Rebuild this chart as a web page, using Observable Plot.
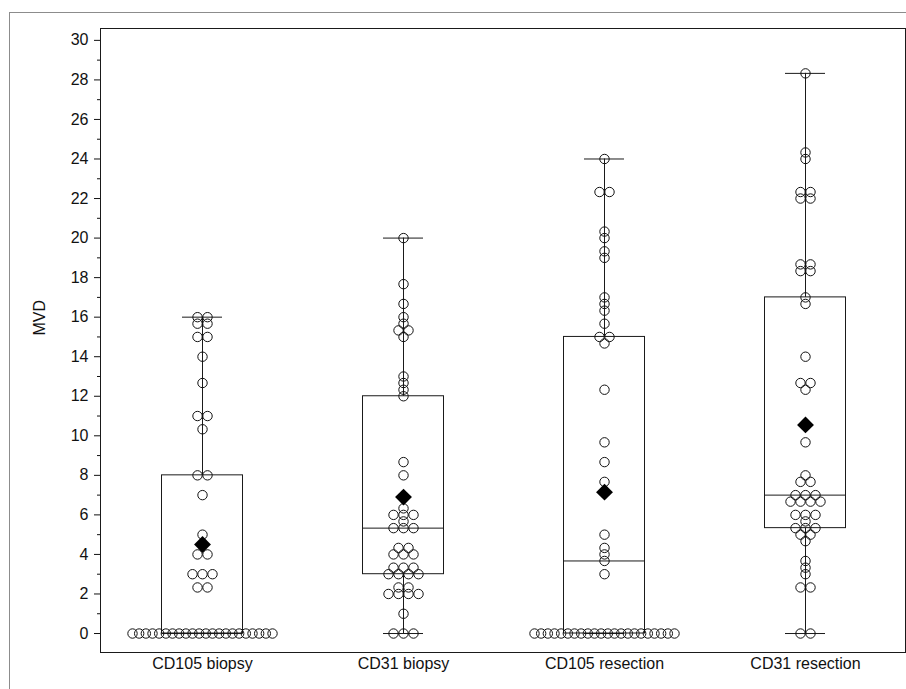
<!DOCTYPE html>
<html><head><meta charset="utf-8">
<script src="https://cdn.jsdelivr.net/npm/d3@7"></script>
<script src="https://cdn.jsdelivr.net/npm/@observablehq/plot@0.6"></script>
<style>
html,body{margin:0;padding:0;background:#fff;}
#wrap{position:relative;width:906px;height:689px;overflow:hidden;}
#border{position:absolute;left:9px;top:12px;width:920px;height:700px;border-left:1px solid #8c8c8c;border-top:1px solid #8c8c8c;}
#chart{position:absolute;left:0;top:0;}
</style></head><body>
<div id="wrap"><div id="border"></div><div id="chart"></div></div>
<script>
// ---- data ----
const groups = ["CD105 biopsy", "CD31 biopsy", "CD105 resection", "CD31 resection"];
const cd105Biopsy = [16,16,15.67,15.67,15,15,14,12.67,11,11,10.33,8,8,7,5,4,4,3,3,3,2.33,2.33,
  0,0,0,0,0,0,0,0,0,0,0,0,0,0,0,0,0,0,0,0,0,0];
const cd31Biopsy = [20,17.67,16.67,16,15.67,15.33,15.33,15,13,12.67,12.33,12,8.67,8,6.33,6,6,6,5.67,
  5.33,5.33,5.33,4.33,4.33,4,4,4,3.33,3.33,3.33,3,3,3,3,2.33,2.33,2,2,2,2,1,0,0,0];
const cd105Resection = [24,22.33,22.33,20.33,20,19.33,19,17,16.67,16.33,15.67,15,15,14.67,12.33,9.67,8.67,7.67,5,4.33,4,3.67,3,
  0,0,0,0,0,0,0,0,0,0,0,0,0,0,0,0,0,0,0,0,0,0];
const cd31Resection = [28.33,24.33,24,22.33,22.33,22,22,18.67,18.67,18.33,18.33,17,16.67,14,12.67,12.67,12.33,9.67,8,7.67,7.67,
  7,7,7,6.67,6.67,6.67,6.67,6,6,6,5.67,5.33,5.33,5.33,5,5,4.67,3.67,3.33,3,2.33,2.33,0,0];
const boxMin = [0, 0, 0, 0];
const boxQ1 = [0, 3, 0, 5.33];
const boxMedian = [0, 5.33, 3.67, 7];
const boxQ3 = [8, 12, 15, 17];
const boxMax = [16, 20, 24, 28.33];
const means = [4.5, 6.9, 7.15, 10.55];
const yTicks = d3.range(0, 31, 2);
const yMinorTicks = d3.range(1, 31, 2);

// ---- layout ----
const W = 906, H = 689, mL = 100, mR = 1, mT = 28, mB = 37;
const xDomain = [-0.5075, 3.4975];
const pxPerUnit = (W - mL - mR) / (xDomain[1] - xDomain[0]);
const series = [cd105Biopsy, cd31Biopsy, cd105Resection, cd31Resection];

const points = [];
series.forEach((vals, gi) => {
  const counts = d3.rollup(vals, v => v.length, v => v);
  const seen = new Map();
  vals.forEach(v => {
    const n = counts.get(v), i = seen.get(v) || 0;
    seen.set(v, i + 1);
    const sp = n > 1 ? Math.min(10, 140 / (n - 1)) : 0;
    points.push({g: gi, v, x: gi + (i - (n - 1) / 2) * sp / pxPerUnit});
  });
});
const stats = groups.map((name, g) => ({g, name, min: boxMin[g], q1: boxQ1[g], median: boxMedian[g], q3: boxQ3[g], max: boxMax[g], mean: means[g]}));
const boxHalf = 40.5 / pxPerUnit, capHalf = 20 / pxPerUnit;
const ink = "#1a1a1a";

const chart = Plot.plot({
  width: W, height: H,
  marginLeft: mL, marginRight: mR, marginTop: mT, marginBottom: mB,
  style: {fontFamily: "'Liberation Sans', Arial, sans-serif", fontSize: "16px", color: "#111", background: "transparent"},
  x: {domain: xDomain, axis: null},
  y: {domain: [-0.96, 30.6], axis: null},
  marks: [
    Plot.ruleX(stats, {x: "g", y1: "min", y2: "max", stroke: ink, strokeWidth: 1}),
    Plot.ruleY(stats, {y: "max", x1: d => d.g - capHalf, x2: d => d.g + capHalf, stroke: ink}),
    Plot.ruleY(stats, {y: "min", x1: d => d.g - capHalf, x2: d => d.g + capHalf, stroke: ink}),
    Plot.rect(stats, {x1: d => d.g - boxHalf, x2: d => d.g + boxHalf, y1: "q1", y2: "q3", fill: "white", stroke: ink, strokeWidth: 1}),
    Plot.ruleY(stats, {y: "median", x1: d => d.g - boxHalf, x2: d => d.g + boxHalf, stroke: ink}),
    Plot.dot(points, {x: "x", y: "v", r: 4.7, stroke: "#111", strokeWidth: 1, fill: "none"}),
    Plot.dot(stats, {x: "g", y: "mean", symbol: "diamond2", r: 7.6, fill: "black", stroke: "none"}),
    Plot.frame({stroke: ink}),
    Plot.axisY({ticks: yTicks, tickSize: 6, tickPadding: 6, label: null, tickFormat: d => String(d)}),
    Plot.axisY({ticks: yMinorTicks, tickSize: 3, label: null, tickFormat: () => ""}),
    Plot.axisX({ticks: [0, 1, 2, 3], tickFormat: i => groups[i], tickSize: 0, tickPadding: 5, label: null}),
    Plot.text(["MVD"], {frameAnchor: "left", dx: -61, dy: -5, rotate: -90, fontSize: 16, fill: "#111"})
  ]
});
document.getElementById("chart").appendChild(chart);
</script></body></html>
